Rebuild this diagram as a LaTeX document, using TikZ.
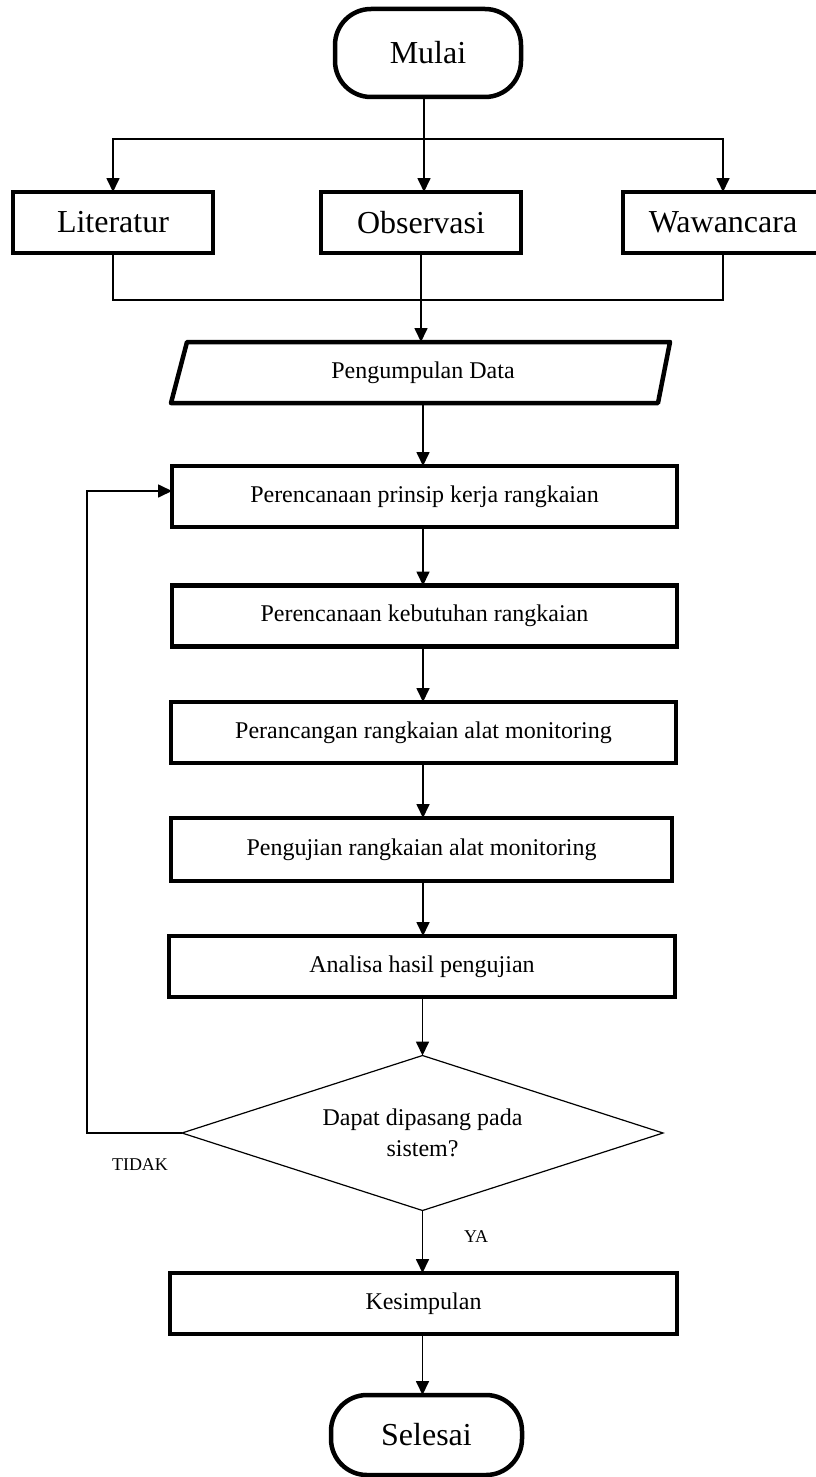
\documentclass[tikz,border=0pt]{standalone}
\usepackage{fontspec}
\setmainfont{Liberation Serif}
\usetikzlibrary{arrows.meta,shapes.geometric}
\begin{document}
\begin{tikzpicture}[x=1pt,y=-1pt,
  thick box/.style={draw, line width=4.5pt, inner sep=0pt, outer sep=0pt},
  term/.style={thick box, rounded corners=36pt, font=\fontsize{32}{38}\selectfont},
  srcbox/.style={thick box, minimum width=200pt, minimum height=61pt, font=\fontsize{32}{38}\selectfont},
  procbox/.style={thick box, minimum width=505pt, minimum height=61pt, font=\fontsize{24}{29}\selectfont},
  decision/.style={diamond, aspect=3.1, draw, line width=1.2pt, inner sep=0pt, outer sep=0pt, minimum width=481pt, minimum height=155pt, align=center, font=\fontsize{24}{31}\selectfont},
  conn/.style={line width=1.7pt},
  arrowconn/.style={conn, -{Triangle[length=14pt,width=13pt]}},
  lbl/.style={font=\fontsize{18}{22}\selectfont, inner sep=0pt}
]
\useasboundingbox (0,0) rectangle (815,1477);

% terminals
\node[term, minimum width=186pt, minimum height=88pt] (mulai) at (428,53) {Mulai};
\node[term, minimum width=191pt, minimum height=80pt] (selesai) at (426.5,1435) {Selesai};

% sources
\node[srcbox] (lit) at (113,222.5) {Literatur};
\node[srcbox] (obs) at (421,222.5) {Observasi};
\node[srcbox] (waw) at (723,222.5) {Wawancara};

% data input (parallelogram)
\node[inner sep=0pt, outer sep=0pt, minimum width=490pt, minimum height=61pt, font=\fontsize{24}{29}\selectfont] (pd) at (423,372.5) {Pengumpulan Data};
\draw[line width=4.5pt, line join=round] (171,403) -- (187,342) -- (670,342) -- (658,403) -- cycle;

% process boxes
\node[procbox] (b1) at (424.5,496.5) {Perencanaan prinsip kerja rangkaian};
\node[procbox] (b2) at (424.5,616) {Perencanaan kebutuhan rangkaian};
\node[procbox] (b3) at (423.5,732.5) {Perancangan rangkaian alat monitoring};
\node[procbox, minimum width=501pt, minimum height=63pt] (b4) at (421.5,849.5) {Pengujian rangkaian alat monitoring};
\node[procbox, minimum width=506pt] (b5) at (422,966.5) {Analisa hasil pengujian};
\node[decision] (dia) at (422.5,1133) {Dapat dipasang pada\\sistem?};
\node[procbox, minimum width=507pt] (b6) at (423.5,1303.5) {Kesimpulan};

% labels
\node[lbl] (tidak) at (140,1165) {TIDAK};
\node[lbl] (ya) at (476,1237) {YA};

% split from Mulai
\coordinate (split) at (424,139);
\draw[conn] (mulai.south -| split) -- (split);
\draw[arrowconn] (split) -| (lit.north);
\draw[arrowconn] (split) -- (split |- obs.north);
\draw[arrowconn] (split) -| (waw.north);

% join to data collection
\coordinate (join) at (421,300);
\draw[conn] (lit.south) -- (lit.south |- join) -- (waw.south |- join) -- (waw.south);
\draw[arrowconn] (obs.south) -- (obs.south |- pd.north);

% main chain
\draw[arrowconn] (pd.south) -- (pd.south |- b1.north);
\draw[arrowconn] (b1.south -| pd.south) -- (pd.south |- b2.north);
\draw[arrowconn] (b2.south -| pd.south) -- (pd.south |- b3.north);
\draw[arrowconn] (b3.south -| pd.south) -- (pd.south |- b4.north);
\draw[arrowconn] (b4.south -| pd.south) -- (pd.south |- b5.north);
\draw[arrowconn] (b5.south -| dia.north) -- (dia.north);
\draw[arrowconn] (dia.south) -- (dia.south |- b6.north);
\draw[arrowconn] (b6.south -| dia.south) -- (dia.south |- selesai.north);

% feedback loop
\coordinate (fb) at (87,491);
\draw[arrowconn] (dia.west) -| (fb) -- (fb -| b1.west);
\end{tikzpicture}
\end{document}
